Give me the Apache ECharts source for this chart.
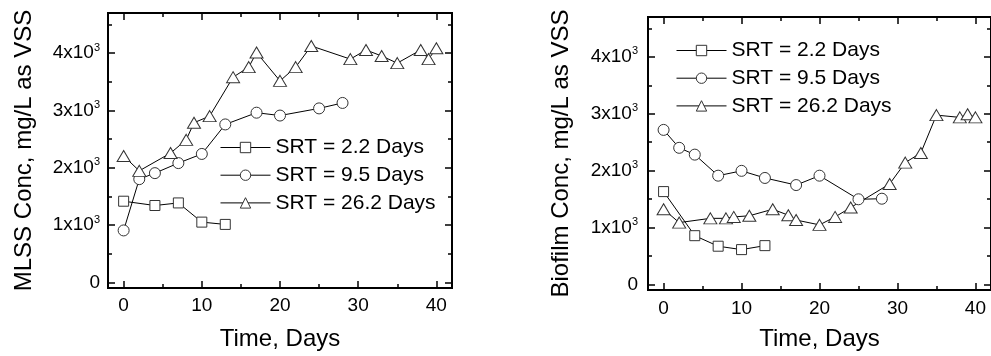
<!DOCTYPE html>
<html>
<head>
<meta charset="utf-8">
<script src="https://cdn.jsdelivr.net/npm/echarts@6/dist/echarts.min.js"></script>
<style>
  html, body { margin: 0; padding: 0; background: #fff; }
  #chart { width: 991px; height: 356px; }
</style>
</head>
<body>
<div id="chart"></div>
<script>
// series names
var seriesNames = ['SRT = 2.2 Days', 'SRT = 9.5 Days', 'SRT = 26.2 Days'];

// MLSS panel (left)
var mlssDays22 = [0, 4, 7, 10, 13];
var mlss22 = [1415, 1340, 1385, 1050, 1010];
var mlssDays95 = [0, 2, 4, 7, 10, 13, 17, 20, 25, 28];
var mlss95 = [905, 1800, 1905, 2080, 2240, 2755, 2960, 2910, 3035, 3130];
var mlssDays262 = [0, 2, 6, 8, 9, 11, 14, 16, 17, 20, 22, 24, 29, 31, 33, 35, 38, 39, 40];
var mlss262 = [2205, 1945, 2255, 2485, 2785, 2900, 3580, 3755, 4010, 3515, 3755, 4125, 3895, 4055, 3950, 3825, 4055, 3895, 4085];

// Biofilm panel (right)
var bioDays22 = [0, 4, 7, 10, 13];
var bio22 = [1630, 855, 670, 610, 680];
var bioDays95 = [0, 2, 4, 7, 10, 13, 17, 20, 25, 28];
var bio95 = [2715, 2400, 2280, 1910, 1995, 1870, 1745, 1910, 1495, 1505];
var bioDays262 = [0, 2, 6, 8, 9, 11, 14, 16, 17, 20, 22, 24, 29, 31, 33, 35, 38, 39, 40];
var bio262 = [1320, 1085, 1160, 1160, 1185, 1205, 1320, 1215, 1130, 1045, 1185, 1350, 1765, 2140, 2310, 2975, 2935, 2990, 2935];

// ticks
var xTicks = [0, 10, 20, 30, 40];
var xTickLabels = ['0', '10', '20', '30', '40'];
var xMinorTicks = [5, 15, 25, 35];
var yTicks = [0, 1000, 2000, 3000, 4000];
var yTickLabels = ['0', '1x10³', '2x10³', '3x10³', '4x10³'];
var yMinorTicks = [500, 1500, 2500, 3500, 4500];

var symbols = ['rect', 'circle', 'triangle'];
var symbolSizes = [10, 11, [13, 11]];

var myChart = echarts.init(document.getElementById('chart'));

function xLabel(v) {
    var i = xTicks.indexOf(v);
    return i >= 0 ? xTickLabels[i] : '';
}
function yLabel(v) {
    var i = yTicks.indexOf(v);
    if (i < 0) return '';
    var s = yTickLabels[i];
    if (s.indexOf('³') > -1) {
        return '{a|' + s.replace('³', '') + '}{b|3}';
    }
    return '{a|' + s + '}';
}

function tickAxis(gridIndex, position, ticks, len, min, max) {
    return {
        type: 'value', gridIndex: gridIndex, position: position,
        min: min, max: max,
        axisLine: {show: false, onZero: false},
        splitLine: {show: false},
        axisTick: {show: true, inside: true, length: len, customValues: ticks,
            lineStyle: {color: '#000', width: 1.5}},
        axisLabel: {show: false}
    };
}

function xAxesFor(gridIndex, margin, nameGap) {
    var main = tickAxis(gridIndex, 'bottom', xTicks, 7, -2, 42);
    main.axisLabel = {show: true, customValues: xTicks, formatter: xLabel, margin: margin,
        fontSize: 19, color: '#000'};
    main.name = 'Time, Days';
    main.nameLocation = 'middle';
    main.nameGap = nameGap;
    main.nameTextStyle = {fontSize: 24, color: '#000'};
    return [
        main,
        tickAxis(gridIndex, 'bottom', xMinorTicks, 4, -2, 42),
        tickAxis(gridIndex, 'top', xTicks, 7, -2, 42),
        tickAxis(gridIndex, 'top', xMinorTicks, 4, -2, 42)
    ];
}

function yAxesFor(gridIndex, name, margin, nameGap) {
    var main = tickAxis(gridIndex, 'left', yTicks, 7, -100, 4700);
    main.axisLabel = {show: true, customValues: yTicks, formatter: yLabel, margin: margin,
        rich: {
            a: {fontSize: 19, color: '#000', lineHeight: 22},
            b: {fontSize: 11, color: '#000', verticalAlign: 'top', lineHeight: 12}
        }};
    main.name = name;
    main.nameLocation = 'middle';
    main.nameGap = nameGap;
    main.nameTextStyle = {fontSize: 24, color: '#000'};
    return [
        main,
        tickAxis(gridIndex, 'left', yMinorTicks, 4, -100, 4700),
        tickAxis(gridIndex, 'right', yTicks, 7, -100, 4700),
        tickAxis(gridIndex, 'right', yMinorTicks, 4, -100, 4700)
    ];
}

function makeSeries(k, axisIndex, days, vals) {
    var pts = [];
    for (var i = 0; i < days.length; i++) {
        pts.push([days[i], vals[i]]);
    }
    return {
        name: seriesNames[k],
        type: 'line',
        xAxisIndex: axisIndex,
        yAxisIndex: axisIndex,
        data: pts,
        symbol: symbols[k],
        symbolSize: symbolSizes[k],
        showAllSymbol: true,
        lineStyle: {color: '#000', width: 1},
        itemStyle: {color: '#fff', borderColor: '#333', borderWidth: 1},
        emphasis: {disabled: true},
        animation: false
    };
}

function legendAt(left, top) {
    return {
        data: seriesNames,
        orient: 'vertical',
        left: left, top: top,
        padding: 0,
        itemWidth: 50, itemHeight: 13, itemGap: 6.7,
        itemStyle: {borderWidth: 1, borderColor: '#333', color: '#fff'},
        lineStyle: {width: 1, color: '#000'},
        textStyle: {fontSize: 21, color: '#000', lineHeight: 20}
    };
}

var option = {
    backgroundColor: '#fff',
    textStyle: {fontFamily: 'Liberation Sans, Arial, sans-serif'},
    grid: [
        {left: 108, top: 13, width: 344, height: 277, show: true, borderColor: '#000', borderWidth: 2, containLabel: false},
        {left: 648, top: 17, width: 346, height: 277, show: true, borderColor: '#000', borderWidth: 2, containLabel: false}
    ],
    legend: [legendAt(220, 137), legendAt(676, 40)],
    xAxis: xAxesFor(0, 8, 39).concat(xAxesFor(1, 9, 37)),
    yAxis: yAxesFor(0, 'MLSS Conc, mg/L as VSS', 8, 72).concat(yAxesFor(1, 'Biofilm Conc, mg/L as VSS', 10, 75)),
    series: [
        makeSeries(0, 0, mlssDays22, mlss22),
        makeSeries(1, 0, mlssDays95, mlss95),
        makeSeries(2, 0, mlssDays262, mlss262),
        makeSeries(0, 4, bioDays22, bio22),
        makeSeries(1, 4, bioDays95, bio95),
        makeSeries(2, 4, bioDays262, bio262)
    ]
};

myChart.setOption(option);
</script>
</body>
</html>
